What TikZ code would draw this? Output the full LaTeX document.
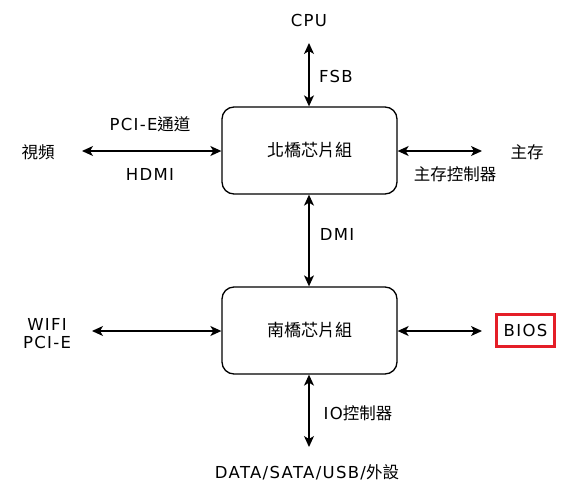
\documentclass[tikz,border=0pt]{standalone}
\usepackage{fontspec}
\setmainfont{DejaVu Sans}[LetterSpace=8]
\newfontfamily\cjk{Noto Sans CJK TC}
\usetikzlibrary{arrows.meta}
\definecolor{biosred}{RGB}{228,30,40}
\begin{document}
\begin{tikzpicture}[x=1pt,y=-1pt,
  lbl/.style={inner sep=0pt,font=\fontsize{16.5}{19}\selectfont},
  chip/.style={draw,line width=1.3pt,rounded corners=12pt,minimum width=175pt,minimum height=87pt,inner sep=0pt,font=\fontsize{17}{19}\selectfont\cjk},
  link/.style={line width=1.3pt,{Stealth[length=11pt,width=10pt,inset=3pt]}-{Stealth[length=11pt,width=10pt,inset=3pt]}}]
\useasboundingbox (0,0) rectangle (582,496);
\node[chip] (nb) at (309.5,150.5) {北橋芯片組};
\node[chip] (sb) at (309.5,330.5) {南橋芯片組};
\node[lbl] (cpu) at (309,20) {CPU};
\coordinate (cpuend) at (309,43);
\node[lbl] (fsb) at (336,76) {FSB};
\node[lbl] (video) at (38,152) {\cjk 視頻};
\coordinate (vidend) at (82,151);
\node[lbl] (pcie) at (150,124) {PCI-E{\cjk 通道}};
\node[lbl] (hdmi) at (150,174) {HDMI};
\node[lbl] (mem) at (527,152) {\cjk 主存};
\coordinate (memend) at (482,151);
\node[lbl] (memctl) at (455,174) {\cjk 主存控制器};
\node[lbl] (dmi) at (337,234) {DMI};
\node[lbl,align=center] (wifi) at (47,334) {WIFI\\[-1pt]PCI-E};
\coordinate (wifiend) at (92,331);
\node[draw=biosred,line width=3.5pt,minimum width=58pt,minimum height=32pt,inner sep=0pt,font=\fontsize{16.5}{19}\selectfont] (bios) at (525.5,330.5) {BIOS};
\coordinate (biosend) at (482,331);
\node[lbl] (ioctl) at (358,413) {IO{\cjk 控制器}};
\coordinate (ioend) at (309,447);
\node[lbl] (data) at (307,472) {DATA/SATA/USB/{\cjk 外設}};
\draw[link] (cpuend) -- (nb.north -| cpuend);
\draw[link] (vidend) -- (nb.west |- vidend);
\draw[link] (nb.east |- memend) -- (memend);
\draw[link] (nb.south -| cpuend) -- (sb.north -| cpuend);
\draw[link] (wifiend) -- (sb.west |- wifiend);
\draw[link] (sb.east |- biosend) -- (biosend);
\draw[link] (sb.south -| ioend) -- (ioend);
\end{tikzpicture}
\end{document}
